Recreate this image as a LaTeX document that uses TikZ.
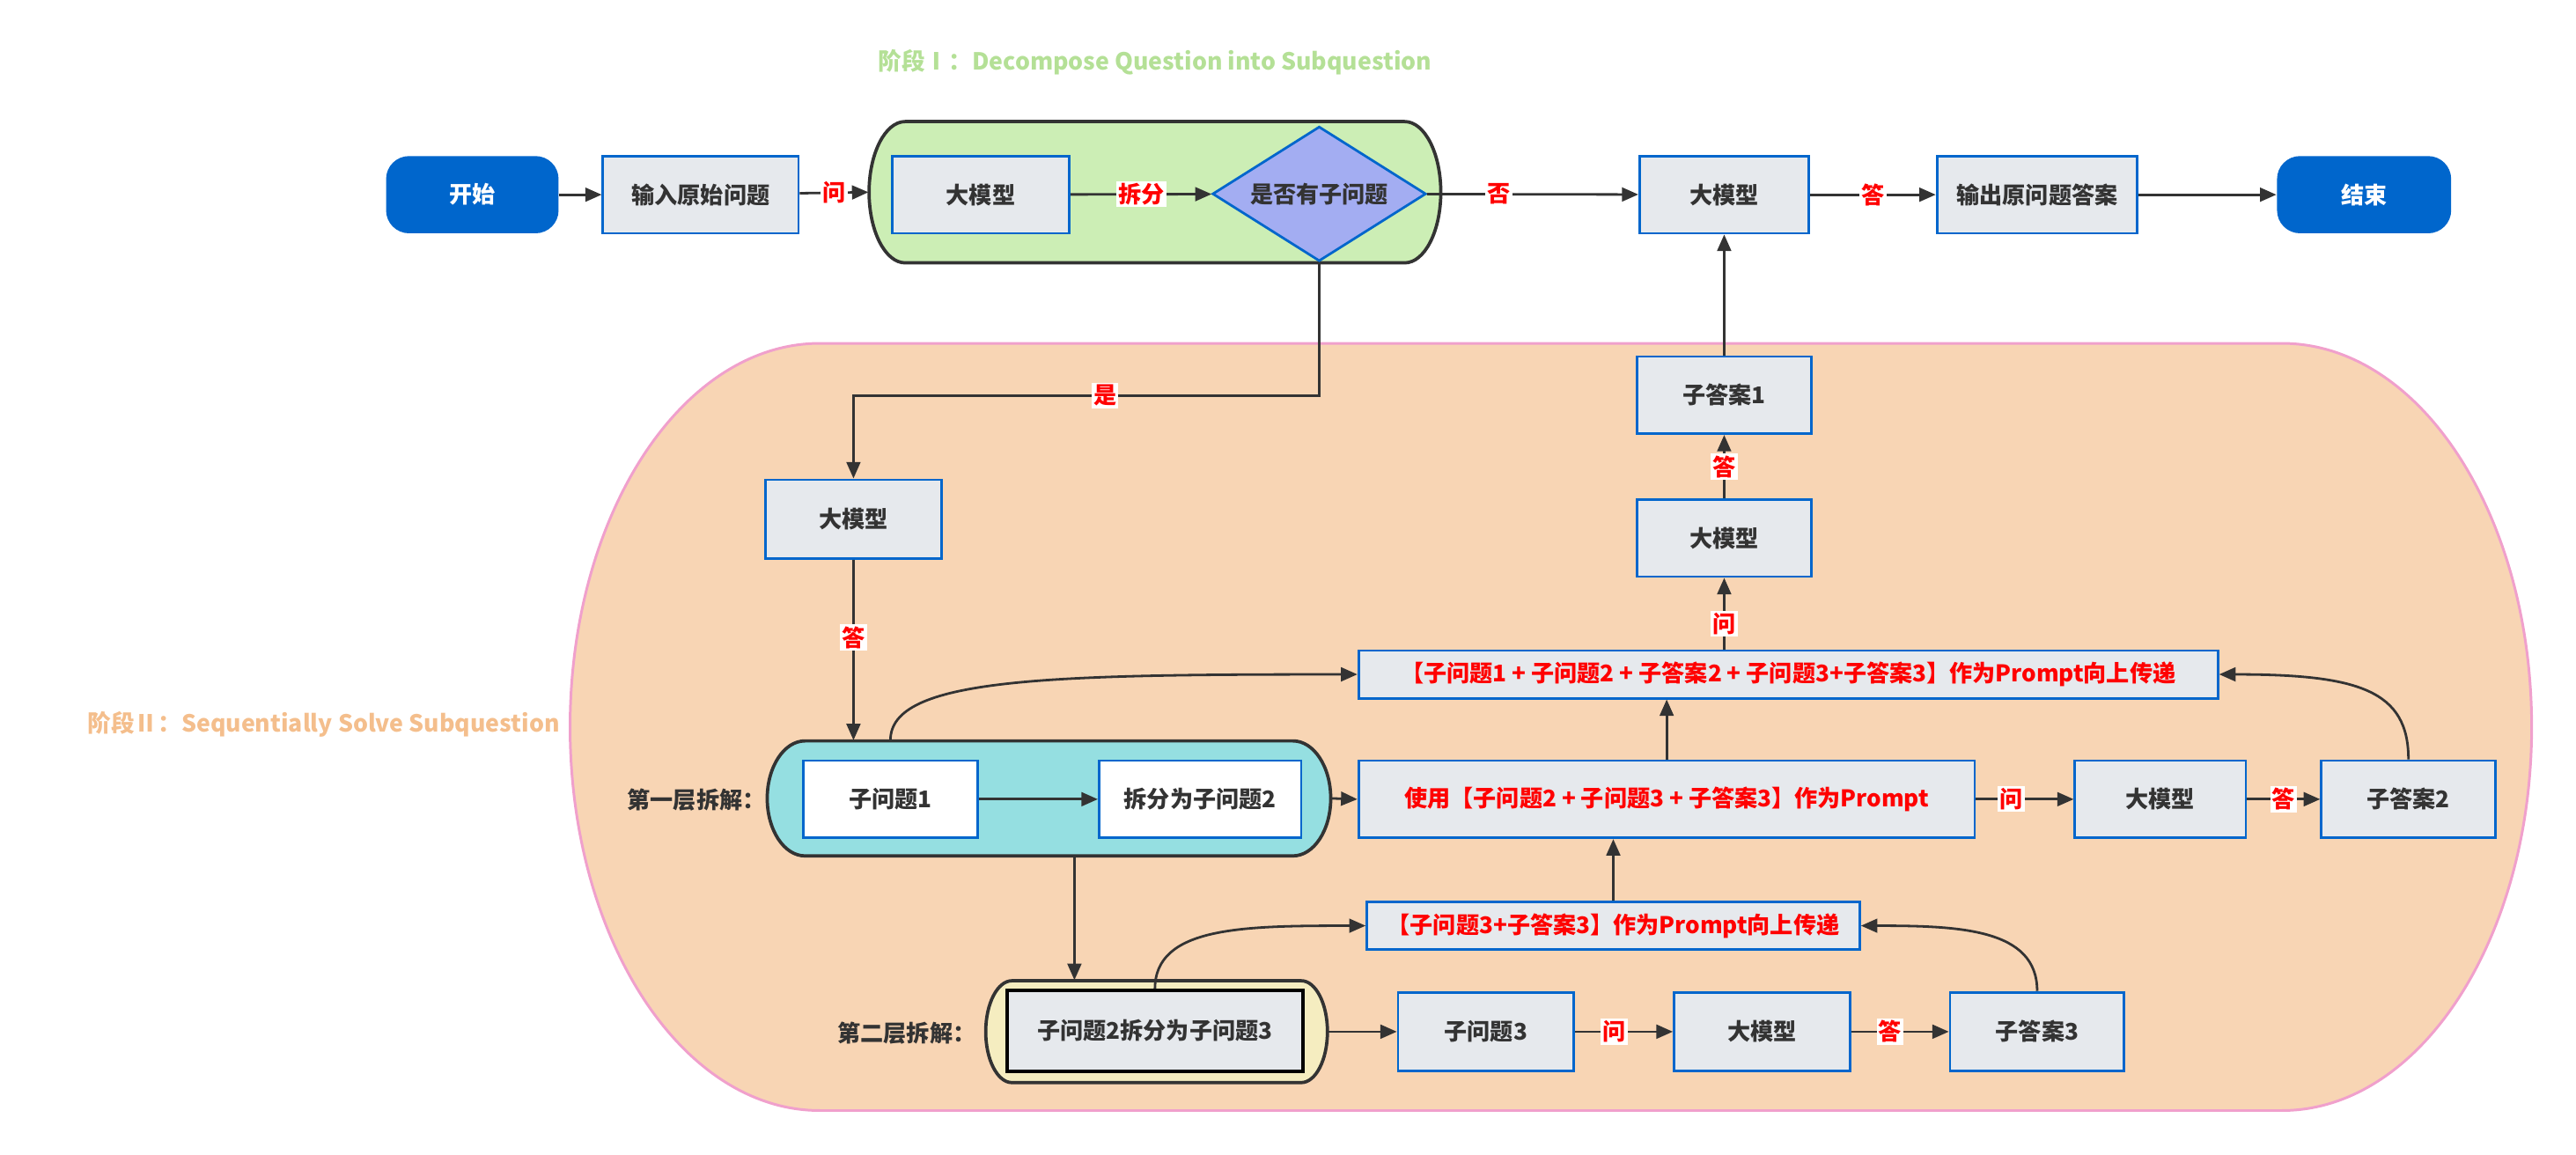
\documentclass[tikz,border=0pt]{standalone}
\usepackage{fontspec}
\setmainfont{Noto Sans CJK SC}
\usetikzlibrary{arrows.meta,shapes.geometric,calc}
\definecolor{bblue}{HTML}{0066CC}
\definecolor{bfill}{HTML}{E6E9ED}
\definecolor{dark}{HTML}{333333}
\definecolor{gbg}{HTML}{CCEEB5}
\definecolor{dfill}{HTML}{A3ADF2}
\definecolor{peach}{HTML}{F8D5B4}
\definecolor{pinkline}{HTML}{F0A0CC}
\definecolor{cyanbg}{HTML}{95DFE1}
\definecolor{ybg}{HTML}{F5EDC0}
\definecolor{tgreen}{HTML}{B4E096}
\definecolor{torange}{HTML}{F4BE8C}
\definecolor{myred}{HTML}{FF0000}
\newcommand\stadiumshape[6]{\path[#6] (#1+#5,#2) -- (#3-#5,#2) arc[start angle=-90,end angle=90,x radius=#5,y radius={(#4-#2)/2}] -- (#1+#5,#4) arc[start angle=90,end angle=270,x radius=#5,y radius={(#4-#2)/2}] -- cycle;}
\begin{document}
\begin{tikzpicture}[x=0.5pt,y=-0.5pt,
  font=\bfseries\fontsize{7}{8.5}\selectfont, text=dark,
  sz/.style 2 args={minimum width=#1*0.5pt,minimum height=#2*0.5pt},
  box/.style={draw=bblue,fill=bfill,line width=0.75pt,inner sep=0pt},
  wbox/.style={box,fill=white},
  term/.style={fill=bblue,text=white,rounded corners=7pt,inner sep=0pt},
  lbl/.style={fill=white,text=myred,inner sep=0.6pt},
  arr/.style={draw=dark,line width=0.75pt,-{Triangle[length=5pt,width=4.2pt]}},
  cont/.style={draw=dark,line width=1pt}]
\useasboundingbox (0,0) rectangle (1568,703);
% containers
\stadiumshape{347}{209}{1541}{676}{152}{fill=peach,draw=pinkline,line width=0.8pt}
\stadiumshape{529}{74}{877}{160}{22}{fill=gbg,cont}
\stadiumshape{467}{451}{810}{521}{23}{fill=cyanbg,cont}
\stadiumshape{600}{597}{808}{659}{16}{fill=ybg,cont}
\node[sz={348}{86}] (gc) at (703,117) {};
\node[sz={343}{70}] (cc) at (638.5,486) {};
\node[sz={208}{62}] (yc) at (704,628) {};
% titles
\node[text=tgreen,font=\bfseries\fontsize{7.15}{9}\selectfont] (t1) at (703,38) {阶段Ⅰ：Decompose Question into Subquestion};
\node[text=torange,font=\bfseries\fontsize{7.15}{9}\selectfont] (t2) at (197,441) {阶段Ⅱ：Sequentially Solve Subquestion};
% top row
\node[term,sz={105}{47}] (start) at (287.5,118.5) {开始};
\node[box,sz={119}{47}] (in1) at (426.5,118.5) {输入原始问题};
\node[box,sz={108}{47}] (m1) at (597,118.5) {大模型};
\node[diamond,aspect=1.585,draw=bblue,fill=dfill,line width=0.75pt,inner sep=0pt,sz={130}{82}] (dec) at (803,118) {是否有子问题};
\node[box,sz={103}{47}] (m2) at (1049.5,118.5) {大模型};
\node[box,sz={122}{47}] (out) at (1240,118.5) {输出原问题答案};
\node[term,sz={106}{47}] (end) at (1439,118.5) {结束};
% stage II
\node[box,sz={107}{48}] (m3) at (519.5,316) {大模型};
\node[anchor=east] (l1) at (473,487) {第一层拆解：};
\node[wbox,sz={106}{47}] (s1) at (542,486.5) {子问题1};
\node[wbox,sz={123}{47}] (s2) at (730.5,486.5) {拆分为子问题2};
\node[box,sz={375}{47},text=myred] (use) at (1014.5,486.5) {使用【子问题2 + 子问题3 + 子答案3】作为Prompt};
\node[box,sz={104}{47}] (m4) at (1315,486.5) {大模型};
\node[box,sz={106}{47}] (a2) at (1466,486.5) {子答案2};
\node[box,sz={523}{29},text=myred] (up1) at (1088.5,410.5) {【子问题1 + 子问题2 + 子答案2 + 子问题3+子答案3】作为Prompt向上传递};
\node[box,sz={106}{47}] (m5) at (1049.5,327.5) {大模型};
\node[box,sz={106}{47}] (a1) at (1049.5,240.5) {子答案1};
\node[anchor=east] (l2) at (601,629) {第二层拆解：};
\node[box,draw=black,line width=1pt,sz={180}{49}] (s3) at (703,627.5) {子问题2拆分为子问题3};
\node[box,sz={107}{48}] (q3) at (904.5,628) {子问题3};
\node[box,sz={107}{48}] (m6) at (1072.5,628) {大模型};
\node[box,sz={106}{48}] (a3) at (1240,628) {子答案3};
\node[box,sz={300}{29},text=myred] (up2) at (982,563.5) {【子问题3+子答案3】作为Prompt向上传递};
% connectors top
\draw[arr] (start) -- (in1);
\draw[arr] (in1) -- node[lbl]{问} (gc.west);
\draw[arr] (m1) -- node[lbl]{拆分} (dec);
\draw[arr] (dec) -- node[lbl,pos=0.34]{否} (m2);
\draw[arr] (m2) -- node[lbl]{答} (out);
\draw[arr] (out) -- (end);
\draw[arr] (dec.south) -- ++(0,81) -| node[lbl,pos=0.23]{是} (m3.north);
\draw[arr] (m3.south) -- node[lbl,pos=0.43]{答} (m3.south |- cc.north);
% first layer
\draw[arr] (s1) -- (s2);
\draw[arr] (cc.east) -- (use.west);
\draw[arr] (use.north) -- (use.north |- up1.south);
\draw[arr] (use) -- node[lbl,pos=0.36]{问} (m4);
\draw[arr] (m4) -- node[lbl]{答} (a2);
\draw[arr] (s1.north |- cc.north) .. controls +(0,-38) and +(-190,0) .. (up1.west);
\draw[arr] (a2.north) .. controls +(0,-42) and +(85,0) .. (up1.east);
\draw[arr] (up1.north -| m5.south) -- node[lbl,pos=0.36]{问} (m5.south);
\draw[arr] (m5) -- node[lbl]{答} (a1);
\draw[arr] (a1) -- (m2);
% second layer
\draw[arr] ($(cc.south)+(15.5,0)$) coordinate (d1) -- (d1 |- yc.north);
\draw[arr] (yc.east) -- (q3.west);
\draw[arr] (q3) -- node[lbl,pos=0.4]{问} (m6);
\draw[arr] (m6) -- node[lbl,pos=0.4]{答} (a3);
\draw[arr] (s3.north) .. controls +(0,-38) and +(-75,0) .. (up2.west);
\draw[arr] (a3.north) .. controls +(0,-38) and +(60,0) .. (up2.east);
\draw[arr] (up2.north) -- (up2.north |- use.south);
\end{tikzpicture}
\end{document}
